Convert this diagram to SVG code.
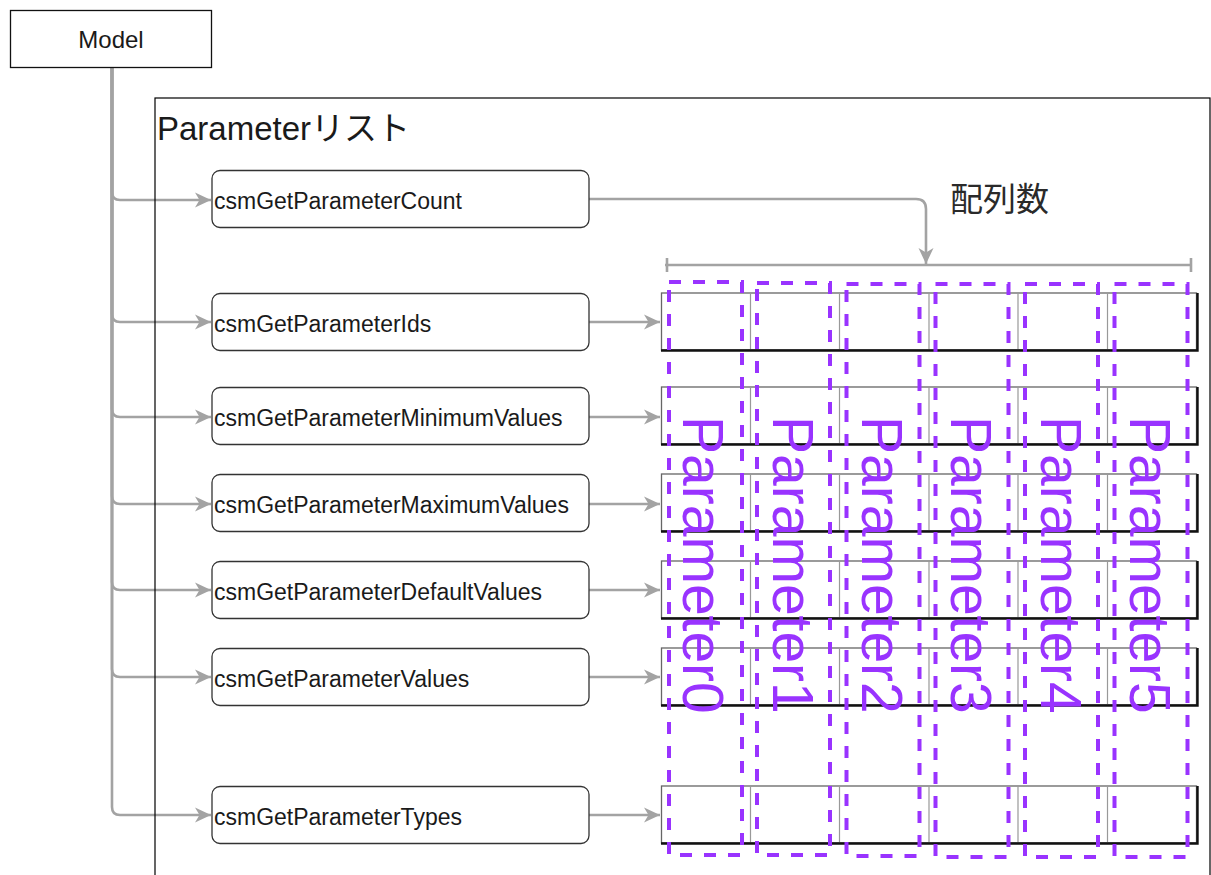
<svg xmlns="http://www.w3.org/2000/svg" width="1211" height="875" viewBox="0 0 1211 875">
<defs>
<style>
.txt{font-family:"Liberation Sans","Noto Sans CJK JP",Arial,sans-serif;fill:#1a1a1a}
.fn{font-size:23px}
.box{fill:#fff;stroke:#333;stroke-width:1.3}
.con{fill:none;stroke:#a3a3a3;stroke-width:2.6}
.div{stroke:#999;stroke-width:1.2}
.shd{stroke:#111;stroke-width:2.4;fill:none}
.pcol{fill:none;stroke:#9933ff;stroke-width:4;stroke-dasharray:12 12}
.ptxt{font-family:"Liberation Sans",Arial,sans-serif;font-size:57px;fill:#9933ff}
</style>
<marker id="ah" markerUnits="userSpaceOnUse" markerWidth="18" markerHeight="18" refX="16" refY="9" orient="auto">
<path d="M0,1.5 L16,9 L0,16.5 L4.5,9 Z" fill="#a3a3a3"/>
</marker>
</defs>
<rect width="1211" height="875" fill="#fff"/>

<g id="connectors">
<path class="con" d="M112,68 V192 Q112,200 120,200 H211" marker-end="url(#ah)"/>
<path class="con" d="M112,68 V314 Q112,322 120,322 H211" marker-end="url(#ah)"/>
<path class="con" d="M112,68 V409 Q112,417 120,417 H211" marker-end="url(#ah)"/>
<path class="con" d="M112,68 V496 Q112,504 120,504 H211" marker-end="url(#ah)"/>
<path class="con" d="M112,68 V582 Q112,590 120,590 H211" marker-end="url(#ah)"/>
<path class="con" d="M112,68 V669 Q112,677 120,677 H211" marker-end="url(#ah)"/>
<path class="con" d="M112,68 V807 Q112,815 120,815 H211" marker-end="url(#ah)"/>
<path class="con" d="M589,322 H660" marker-end="url(#ah)"/>
<path class="con" d="M589,417 H660" marker-end="url(#ah)"/>
<path class="con" d="M589,504 H660" marker-end="url(#ah)"/>
<path class="con" d="M589,590 H660" marker-end="url(#ah)"/>
<path class="con" d="M589,677 H660" marker-end="url(#ah)"/>
<path class="con" d="M589,815 H660" marker-end="url(#ah)"/>
<path class="con" d="M589,199 H916 Q926,199 926,209 V264" marker-end="url(#ah)"/>
<path class="con" d="M665,265 H1191 M667,258 V272 M1191,258 V272"/>
</g>

<g id="container">
<rect x="155" y="98" width="1055" height="800" fill="none" stroke="#000" stroke-width="1.2"/>
<text class="txt" x="157" y="140" font-size="33">Parameterリスト</text>
</g>

<g id="model">
<rect x="10.5" y="10.5" width="201" height="57" fill="#fff" stroke="#111" stroke-width="1.3"/>
<text class="txt" x="111" y="48" font-size="24" text-anchor="middle">Model</text>
</g>

<g id="count-label">
<text x="950" y="211" font-size="33" font-family="'Noto Sans CJK JP','Noto Sans CJK SC',sans-serif" fill="#2a2a2a">配列数</text>
</g>

<g id="fn-count"><rect class="box" x="212" y="170.5" width="377" height="57" rx="8"/><text class="txt fn" x="214" y="209">csmGetParameterCount</text></g>
<g id="fn-ids"><rect class="box" x="212" y="293.5" width="377" height="57" rx="8"/><text class="txt fn" x="214" y="332">csmGetParameterIds</text></g>
<g id="fn-min"><rect class="box" x="212" y="387.5" width="377" height="57" rx="8"/><text class="txt fn" x="214" y="426">csmGetParameterMinimumValues</text></g>
<g id="fn-max"><rect class="box" x="212" y="474.5" width="377" height="57" rx="8"/><text class="txt fn" x="214" y="513">csmGetParameterMaximumValues</text></g>
<g id="fn-default"><rect class="box" x="212" y="561.5" width="377" height="57" rx="8"/><text class="txt fn" x="214" y="600">csmGetParameterDefaultValues</text></g>
<g id="fn-values"><rect class="box" x="212" y="648.5" width="377" height="57" rx="8"/><text class="txt fn" x="214" y="687">csmGetParameterValues</text></g>
<g id="fn-types"><rect class="box" x="212" y="786.5" width="377" height="57" rx="8"/><text class="txt fn" x="214" y="825">csmGetParameterTypes</text></g>

<g id="arrays">
<g id="arr-ids"><rect x="661.5" y="293" width="535" height="57" fill="#fff" stroke="#666" stroke-width="1.3"/><path class="div" d="M750.5,293V350M839.5,293V350M929,293V350M1018,293V350M1107.5,293V350"/><path class="shd" d="M661,350.5H1197.5V293"/></g>
<g id="arr-min"><rect x="661.5" y="387" width="535" height="57" fill="#fff" stroke="#666" stroke-width="1.3"/><path class="div" d="M750.5,387V444M839.5,387V444M929,387V444M1018,387V444M1107.5,387V444"/><path class="shd" d="M661,444.5H1197.5V387"/></g>
<g id="arr-max"><rect x="661.5" y="474" width="535" height="57" fill="#fff" stroke="#666" stroke-width="1.3"/><path class="div" d="M750.5,474V531M839.5,474V531M929,474V531M1018,474V531M1107.5,474V531"/><path class="shd" d="M661,531.5H1197.5V474"/></g>
<g id="arr-default"><rect x="661.5" y="561" width="535" height="57" fill="#fff" stroke="#666" stroke-width="1.3"/><path class="div" d="M750.5,561V618M839.5,561V618M929,561V618M1018,561V618M1107.5,561V618"/><path class="shd" d="M661,618.5H1197.5V561"/></g>
<g id="arr-values"><rect x="661.5" y="648" width="535" height="57" fill="#fff" stroke="#666" stroke-width="1.3"/><path class="div" d="M750.5,648V705M839.5,648V705M929,648V705M1018,648V705M1107.5,648V705"/><path class="shd" d="M661,705.5H1197.5V648"/></g>
<g id="arr-types"><rect x="661.5" y="786" width="535" height="57" fill="#fff" stroke="#666" stroke-width="1.3"/><path class="div" d="M750.5,786V843M839.5,786V843M929,786V843M1018,786V843M1107.5,786V843"/><path class="shd" d="M661,843.5H1197.5V786"/></g>
</g>

<g id="param0"><rect class="pcol" x="669" y="282" width="73" height="573"/><text class="ptxt" transform="translate(683,416) rotate(90)">Parameter0</text></g>
<g id="param1"><rect class="pcol" x="757" y="283" width="73" height="572"/><text class="ptxt" transform="translate(772.5,416) rotate(90)">Parameter1</text></g>
<g id="param2"><rect class="pcol" x="846.5" y="284" width="73" height="572"/><text class="ptxt" transform="translate(862,416) rotate(90)">Parameter2</text></g>
<g id="param3"><rect class="pcol" x="935.5" y="284" width="73" height="573"/><text class="ptxt" transform="translate(951,416) rotate(90)">Parameter3</text></g>
<g id="param4"><rect class="pcol" x="1025" y="284" width="73" height="573"/><text class="ptxt" transform="translate(1040.5,416) rotate(90)">Parameter4</text></g>
<g id="param5"><rect class="pcol" x="1114.5" y="284" width="73" height="573"/><text class="ptxt" transform="translate(1130,416) rotate(90)">Parameter5</text></g>
</svg>
